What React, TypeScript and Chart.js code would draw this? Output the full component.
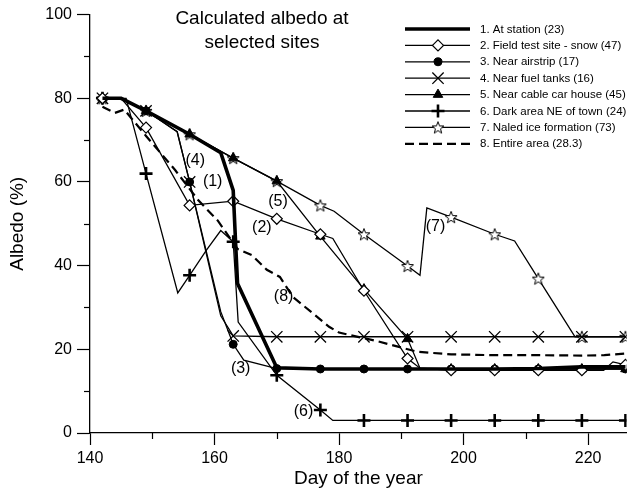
import React, { useEffect, useRef } from "react";
import { Chart, registerables } from "chart.js";
import { drawPoint } from "chart.js/helpers";

Chart.register(...registerables);

const FONT = "'Liberation Sans', Arial, Helvetica, sans-serif";

// ---------- data ----------
const markerDays = [142, 149, 156, 163, 170, 177, 184, 191, 198, 205, 212, 219, 226];
const xMinorTicks = [150, 170, 190, 210];
const yMinorTicks = [10, 30, 50, 70, 90];

const seriesNames = [
  "1. At station (23)",
  "2. Field test site - snow (47)",
  "3. Near airstrip (17)",
  "4. Near fuel tanks (16)",
  "5. Near cable car house (45)",
  "6. Dark area NE of town (24)",
  "7. Naled ice formation (73)",
  "8. Entire area (28.3)",
];

const s1Days = [142, 145, 149, 156, 161, 163, 163.4, 163.7, 170, 177, 184, 191, 198, 205, 212, 219, 226];
const s1Vals = [80, 80, 77, 71.4, 67, 58, 45, 35.7, 15.6, 15.3, 15.3, 15.3, 15.3, 15.3, 15.4, 15.8, 15.8];

const s2Days = [142, 145, 149, 156, 163, 170, 177, 179, 184, 191, 193, 198, 205, 212, 219, 222.5, 224, 226];
const s2Vals = [80, 80, 73, 54.4, 55.4, 51.2, 47.5, 46.5, 34, 17.8, 15.5, 15, 15, 15, 15, 15, 17, 16.3];

const s3Days = [142, 145, 149, 154, 156, 161, 163, 164.7, 170, 177, 184, 191, 198, 205, 212, 219, 226];
const s3Vals = [80, 80, 77, 72, 60, 29, 21.2, 17.4, 15.4, 15.3, 15.3, 15.3, 15.3, 15.3, 15.3, 15.3, 15.3];

const s4Days = [142, 145, 149, 154, 156, 161, 163, 170, 177, 184, 191, 198, 205, 212, 219, 226];
const s4Vals = [80, 80, 77, 72, 60, 28, 23.2, 23, 23, 23, 23, 23, 23, 23, 23, 23];

const s5Days = [142, 145, 149, 156, 163, 170, 177, 184, 191, 193, 198, 205, 212, 219, 226];
const s5Vals = [80, 80, 77, 71.4, 65.7, 60.2, 47, 34.4, 22.5, 15.5, 15.3, 15.3, 15.3, 15.3, 15.3];

const s6Days = [142, 145.8, 149, 154.1, 156, 158.7, 161, 163, 163.8, 170, 177, 179, 184, 191, 198, 205, 212, 219, 226];
const s6Vals = [80, 80, 62, 33.5, 37.7, 43.7, 48.4, 45.7, 26.5, 13.8, 5.5, 3, 3, 3, 3, 3, 3, 3, 3];

const s7Days = [142, 145, 149, 156, 163, 170, 177, 179.2, 184, 191, 193, 194.1, 198, 205, 208.2, 212, 217.9, 219, 226];
const s7Vals = [80, 80, 77, 71.4, 65.7, 60.2, 54.4, 53, 47.5, 39.9, 37.7, 53.8, 51.6, 47.5, 45.9, 36.9, 23, 23, 23];

const s8Days = [142, 144, 145.5, 149, 153.7, 157.4, 160.5, 163.7, 166, 168.4, 170.5, 172.6, 178.4, 180, 186, 192.6, 198, 205, 212, 219, 222.6, 226];
const s8Vals = [78, 76.5, 77.3, 71, 62.8, 55.6, 50.8, 44, 42.5, 39, 37.3, 32.5, 25.4, 24, 22, 19.4, 18.8, 18.6, 18.6, 18.5, 18.6, 19];

const labelTexts = ["(1)", "(2)", "(3)", "(4)", "(5)", "(6)", "(7)", "(8)"];
const labelDays = [159.7, 167.6, 164.2, 156.9, 170.2, 174.3, 195.5, 171.1];
const labelVals = [60.0, 49.2, 15.5, 65.2, 55.4, 5.2, 49.4, 32.7];

const titleLines = ["Calculated albedo at", "selected sites"];

// ---------- helpers ----------
function makeStar(size: number): HTMLCanvasElement {
  const c = document.createElement("canvas");
  c.width = size;
  c.height = size;
  const g = c.getContext("2d")!;
  const cx = size / 2;
  const cy = size / 2 + 0.6;
  const R = size / 2 - 0.7;
  const r = R * 0.42;
  g.beginPath();
  for (let i = 0; i < 10; i++) {
    const a = -Math.PI / 2 + (i * Math.PI) / 5;
    const rr = i % 2 === 0 ? R : r;
    const px = cx + rr * Math.cos(a);
    const py = cy + rr * Math.sin(a);
    if (i === 0) g.moveTo(px, py);
    else g.lineTo(px, py);
  }
  g.closePath();
  g.fillStyle = "#fff";
  g.fill();
  g.strokeStyle = "#000";
  g.lineWidth = 1;
  g.stroke();
  return c;
}

const toPts = (d: number[], v: number[]) => d.map((x, i) => ({ x, y: v[i] }));

export default function App() {
  const ref = useRef<HTMLCanvasElement | null>(null);

  useEffect(() => {
    if (!ref.current) return;
    const star = makeStar(14);

    const styles: any[] = [
      { width: 3.6, dash: [], marker: null },
      { width: 1.3, dash: [], marker: { style: "rectRot", r: 5.5, bw: 1.2, bg: "#fff" } },
      { width: 1.3, dash: [], marker: { style: "circle", r: 4, bw: 1, bg: "#000" } },
      { width: 1.3, dash: [], marker: { style: "crossRot", r: 8, bw: 1.3, bg: "#000" } },
      { width: 1.3, dash: [], marker: { style: "triangle", r: 5.5, bw: 1, bg: "#000" } },
      { width: 1.3, dash: [], marker: { style: "cross", r: 6.5, bw: 2.6, bg: "#000" } },
      { width: 1.3, dash: [], marker: { style: star, r: 6, bw: 1, bg: "#000" } },
      { width: 2.2, dash: [9, 5], marker: null },
    ];
    const allDays = [s1Days, s2Days, s3Days, s4Days, s5Days, s6Days, s7Days, s8Days];
    const allVals = [s1Vals, s2Vals, s3Vals, s4Vals, s5Vals, s6Vals, s7Vals, s8Vals];

    const datasets = seriesNames.map((name, i) => {
      const st = styles[i];
      const m = st.marker;
      return {
        label: name,
        data: toPts(allDays[i], allVals[i]),
        borderColor: "#000",
        borderWidth: st.width,
        borderDash: st.dash,
        tension: 0,
        fill: false,
        pointStyle: m ? m.style : "circle",
        pointRadius: (c: any) => (m && c.raw && markerDays.includes(c.raw.x) ? m.r : 0),
        pointBackgroundColor: m ? m.bg : "#000",
        pointBorderColor: "#000",
        pointBorderWidth: m ? m.bw : 0,
        pointHoverRadius: 0,
      };
    });

    const overlay = {
      id: "overlay",
      afterDraw(chart: any) {
        const ctx = chart.ctx;
        const xs = chart.scales.x;
        const ys = chart.scales.y;
        const ca = chart.chartArea;
        ctx.save();
        ctx.strokeStyle = "#000";
        ctx.lineWidth = 1.2;
        ctx.setLineDash([]);
        for (const d of xMinorTicks) {
          const px = Math.round(xs.getPixelForValue(d)) + 0.5;
          ctx.beginPath();
          ctx.moveTo(px, ca.bottom);
          ctx.lineTo(px, ca.bottom + 6);
          ctx.stroke();
        }
        for (const v of yMinorTicks) {
          const py = Math.round(ys.getPixelForValue(v)) + 0.5;
          ctx.beginPath();
          ctx.moveTo(ca.left, py);
          ctx.lineTo(ca.left - 6, py);
          ctx.stroke();
        }
        // annotations
        ctx.fillStyle = "#000";
        ctx.font = `16px ${FONT}`;
        ctx.textAlign = "center";
        ctx.textBaseline = "middle";
        labelTexts.forEach((t, i) => {
          ctx.fillText(t, xs.getPixelForValue(labelDays[i]), ys.getPixelForValue(labelVals[i]));
        });
        // title
        ctx.font = `19px ${FONT}`;
        ctx.fillText(titleLines[0], 262, 19);
        ctx.fillText(titleLines[1], 262, 43);
        // legend
        const lx0 = 405, lx1 = 470, tx = 480;
        ctx.font = `11.5px ${FONT}`;
        ctx.textAlign = "left";
        seriesNames.forEach((name, i) => {
          const y = 29 + i * 16.4;
          const st = styles[i];
          ctx.strokeStyle = "#000";
          ctx.lineWidth = st.width;
          ctx.setLineDash(st.dash);
          ctx.beginPath();
          ctx.moveTo(lx0, y);
          ctx.lineTo(lx1, y);
          ctx.stroke();
          ctx.setLineDash([]);
          if (st.marker) {
            ctx.fillStyle = st.marker.bg;
            ctx.strokeStyle = "#000";
            ctx.lineWidth = st.marker.bw;
            drawPoint(ctx, { pointStyle: st.marker.style, radius: st.marker.r, rotation: 0, borderWidth: st.marker.bw } as any, 438, y);
          }
          ctx.fillStyle = "#000";
          ctx.fillText(name, tx, y + 0.5);
        });
        ctx.restore();
      },
    };

    const chart = new Chart(ref.current, {
      type: "line",
      data: { datasets: datasets as any },
      options: {
        responsive: false,
        animation: false,
        events: [],
        devicePixelRatio: 1,
        layout: { padding: { top: 14, right: 0, bottom: 0, left: 0 } },
        plugins: { legend: { display: false }, tooltip: { enabled: false }, title: { display: false } },
        scales: {
          x: {
            type: "linear",
            min: 140,
            max: 226.2,
            ticks: {
              stepSize: 20,
              includeBounds: false,
              color: "#000",
              font: { family: FONT, size: 16 },
              padding: 4,
              maxRotation: 0,
              autoSkip: false,
            },
            grid: { display: true, drawOnChartArea: false, drawTicks: true, tickLength: 12, tickColor: "#000", tickWidth: 1.2, color: "#000" },
            border: { display: true, color: "#000", width: 1.3 },
            title: { display: true, text: "Day of the year", color: "#000", font: { family: FONT, size: 19 }, padding: { top: 0, bottom: 2 } },
            afterFit: (s: any) => { s.height = 59; },
          },
          y: {
            type: "linear",
            min: 0,
            max: 100,
            ticks: { stepSize: 20, color: "#000", font: { family: FONT, size: 16 }, padding: 5 },
            grid: { display: true, drawOnChartArea: false, drawTicks: true, tickLength: 13, tickColor: "#000", tickWidth: 1.2, color: "#000" },
            border: { display: true, color: "#000", width: 1.3 },
            title: { display: true, text: "Albedo (%)", color: "#000", font: { family: FONT, size: 19 }, padding: { top: 6, bottom: 0 } },
            afterFit: (s: any) => { s.width = 90; },
          },
        },
      } as any,
      plugins: [overlay],
    });
    return () => chart.destroy();
  }, []);

  return (
    <div style={{ position: "absolute", left: 0, top: 0, width: 636, height: 492, background: "#fff" }}>
      <canvas ref={ref} width={636} height={492} style={{ display: "block" }} />
    </div>
  );
}
